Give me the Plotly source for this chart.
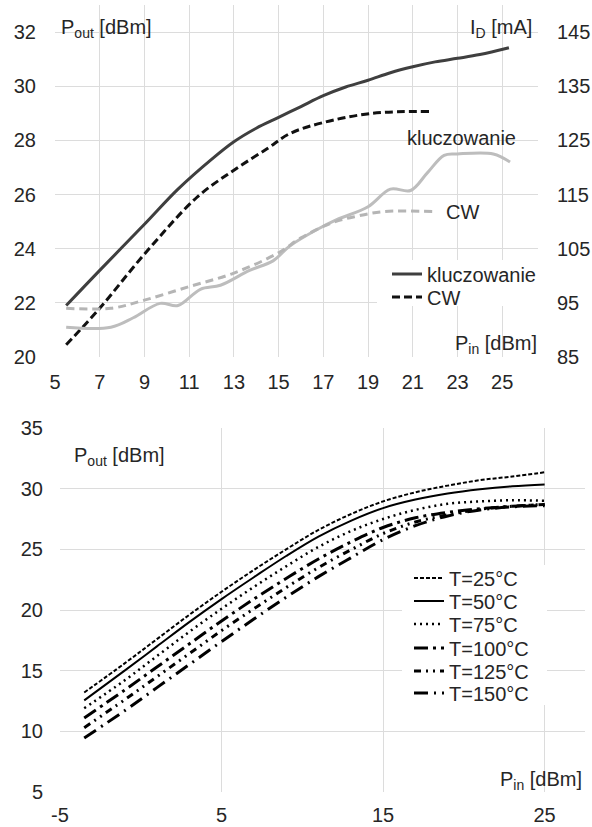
import plotly.graph_objects as go

# ---------------- Top chart data ----------------
# P_out (left axis, dBm)
klucz_pout_x = [5.5, 7, 9, 10.5, 12, 13, 14, 15, 16, 17, 18, 19, 20, 21, 22, 23, 24, 25.3]
klucz_pout_y = [21.9, 23.2, 24.9, 26.2, 27.3, 27.95, 28.45, 28.85, 29.25, 29.65, 29.97, 30.22, 30.5, 30.72, 30.9, 31.03, 31.17, 31.42]
cw_pout_x = [5.5, 7, 9, 11.35, 13, 14.5, 15.5, 17, 19.2, 21.8]
cw_pout_y = [20.45, 21.8, 23.8, 25.9, 26.9, 27.7, 28.25, 28.66, 29.0, 29.07]
# I_D (right axis, mA)
klucz_id_x = [5.5, 7.5, 8.5, 9.7, 10.5, 11.5, 12.4, 13.7, 14.75, 15.5, 16.7, 17.6, 19.0, 20.0, 20.9, 21.65, 22.4, 23.0, 24.6, 25.35]
klucz_id_y = [90.5, 90.5, 92.25, 94.9, 94.5, 97.5, 98.25, 101, 102.75, 105.5, 108.5, 110.35, 112.75, 116, 115.75, 119, 122.25, 122.5, 122.5, 121]
cw_id_x = [5.5, 7.5, 9.0, 11.0, 13.0, 15.0, 16.0, 17.4, 18.5, 19.7, 22.0]
cw_id_y = [94, 94, 95.5, 98, 100.5, 104.25, 107, 109.8, 111, 111.85, 111.85]

top_x_ticks = [5, 7, 9, 11, 13, 15, 17, 19, 21, 23, 25]
top_yl_ticks = [20, 22, 24, 26, 28, 30, 32]
top_yr_ticks = [85, 95, 105, 115, 125, 135, 145]

# ---------------- Bottom chart data ----------------
pin = [-3.5, -1, 1, 3, 5, 7, 9, 11, 13, 15, 17, 19, 21, 23, 25]
t25 = [13.2, 15.6, 17.6, 19.6, 21.5, 23.3, 25.0, 26.6, 27.9, 28.95, 29.7, 30.25, 30.7, 31.0, 31.35]
t50 = [12.55, 15.0, 17.0, 19.0, 20.9, 22.7, 24.45, 26.05, 27.35, 28.4, 29.1, 29.6, 29.95, 30.2, 30.35]
t75 = [11.9, 14.2, 16.2, 18.2, 20.1, 21.9, 23.6, 25.2, 26.5, 27.5, 28.25, 28.75, 28.95, 29.05, 29.0]
t100 = [11.1, 13.4, 15.3, 17.2, 19.1, 20.9, 22.6, 24.2, 25.6, 26.8, 27.6, 28.05, 28.35, 28.55, 28.7]
t125 = [10.3, 12.6, 14.5, 16.4, 18.3, 20.1, 21.85, 23.5, 24.95, 26.3, 27.25, 27.85, 28.3, 28.55, 28.7]
t150 = [9.45, 11.7, 13.6, 15.5, 17.4, 19.25, 21.05, 22.75, 24.3, 25.8, 26.95, 27.75, 28.25, 28.5, 28.6]
temp_labels = ["T=25°C", "T=50°C", "T=75°C", "T=100°C", "T=125°C", "T=150°C"]
bot_x_ticks = [-5, 5, 15, 25]
bot_x_ticktext = ["-5", "5", "15", "25"]
bot_y_ticks = [5, 10, 15, 20, 25, 30, 35]

W, H = 592, 827
FONT = "Liberation Sans, Arial, sans-serif"
TXT = "#262626"
GRID = "#dcdcdc"
FS = 20

def px(x):
    return x / W

def py(y):
    return 1 - y / H

fig = go.Figure()

# top chart traces
fig.add_trace(go.Scatter(x=klucz_pout_x, y=klucz_pout_y, mode="lines", name="kluczowanie",
                         line=dict(color="#3f3f3f", width=3, shape="spline"),
                         xaxis="x", yaxis="y", legend="legend"))
fig.add_trace(go.Scatter(x=cw_pout_x, y=cw_pout_y, mode="lines", name="CW",
                         line=dict(color="#111111", width=3, dash="8px,4px", shape="spline"),
                         xaxis="x", yaxis="y", legend="legend2"))
fig.add_trace(go.Scatter(x=klucz_id_x, y=klucz_id_y, mode="lines", name="kluczowanie I",
                         line=dict(color="#bdbdbd", width=3, shape="spline"),
                         xaxis="x", yaxis="y2", showlegend=False))
fig.add_trace(go.Scatter(x=cw_id_x, y=cw_id_y, mode="lines", name="CW I",
                         line=dict(color="#b5b5b5", width=3, dash="8px,5px", shape="spline"),
                         xaxis="x", yaxis="y2", showlegend=False))

# bottom chart traces (each in its own single-entry legend for tight spacing)
styles = [
    dict(width=2, dash="4px,2px"),
    dict(width=2, dash="solid"),
    dict(width=2.5, dash="2px,4px"),
    dict(width=3, dash="14px,5px,3px,5px"),
    dict(width=3, dash="7px,5px,2px,5px,2px,5px"),
    dict(width=3, dash="14px,6px,2px,6px"),
]
for i, (lab, ys, st) in enumerate(zip(temp_labels, [t25, t50, t75, t100, t125, t150], styles)):
    fig.add_trace(go.Scatter(x=pin, y=ys, mode="lines", name=lab,
                             line=dict(color="#000000", shape="spline", **st),
                             xaxis="x2", yaxis="y3", legend=f"legend{i + 3}"))

tickfont = dict(family=FONT, size=FS, color=TXT)
common = dict(showgrid=True, gridcolor=GRID, gridwidth=1, zeroline=False, showline=False,
              tickfont=tickfont, ticks="outside", tickcolor="rgba(0,0,0,0)", automargin=False)

def leg(xp, yp):
    return dict(x=px(xp), y=py(yp), xanchor="left", yanchor="top", bgcolor="rgba(0,0,0,0)",
                font=dict(family=FONT, size=FS, color=TXT), itemwidth=30)

layout = dict(
    width=W, height=H,
    margin=dict(l=0, r=0, t=0, b=0),
    paper_bgcolor="white", plot_bgcolor="white",
    font=dict(family=FONT, size=FS, color=TXT),
    xaxis=dict(domain=[px(55), px(538)], range=[5, 26.6], tickvals=top_x_ticks, anchor="y",
               ticklen=7, **common),
    yaxis=dict(domain=[py(357), py(5)], range=[20, 33], tickvals=top_yl_ticks, anchor="x",
               ticklen=14, **common),
    yaxis2=dict(overlaying="y", side="right", range=[85, 150], tickvals=top_yr_ticks, anchor="x",
                showgrid=False, zeroline=False, showline=False, tickfont=tickfont, automargin=False,
                ticks="outside", ticklen=14, tickcolor="rgba(0,0,0,0)"),
    xaxis2=dict(domain=[px(60), px(585)], range=[-5, 27.5], tickvals=bot_x_ticks,
                ticktext=bot_x_ticktext, anchor="y3", ticklen=5, **common),
    yaxis3=dict(domain=[py(792), py(428)], range=[5, 35], tickvals=bot_y_ticks, anchor="x2",
                ticklen=12, **common),
    legend=leg(387, 254.5),
    legend2=leg(387, 277.5),
)
bot_leg_centers = [577, 600, 623, 647, 670, 692]
for i, c in enumerate(bot_leg_centers):
    layout[f"legend{i + 3}"] = leg(409, c - 18.5)
fig.update_layout(**layout)

# white boxes behind the legends (cover the gridlines like the reference)
fig.add_shape(type="rect", xref="paper", yref="paper", x0=px(377), x1=px(540), y0=py(306), y1=py(260),
              fillcolor="white", line=dict(width=0), layer="above")
fig.add_shape(type="rect", xref="paper", yref="paper", x0=px(402), x1=px(547), y0=py(705), y1=py(565),
              fillcolor="white", line=dict(width=0), layer="above")

ann = [
    dict(text="P<sub>out</sub> [dBm]", x=px(59), y=py(28), xanchor="left", yanchor="middle"),
    dict(text="I<sub>D</sub> [mA]", x=px(534), y=py(28), xanchor="right", yanchor="middle"),
    dict(text="kluczowanie", x=px(461), y=py(138), xanchor="center", yanchor="middle"),
    dict(text="CW", x=px(462), y=py(212), xanchor="center", yanchor="middle"),
    dict(text="P<sub>in</sub> [dBm]", x=px(539), y=py(345), xanchor="right", yanchor="middle"),
    dict(text="P<sub>out</sub> [dBm]", x=px(72), y=py(456), xanchor="left", yanchor="middle"),
    dict(text="P<sub>in</sub> [dBm]", x=px(584), y=py(780), xanchor="right", yanchor="middle"),
]
for a in ann:
    fig.add_annotation(xref="paper", yref="paper", showarrow=False,
                       font=dict(family=FONT, size=FS, color=TXT), **a)

fig.write_html("out.html")
